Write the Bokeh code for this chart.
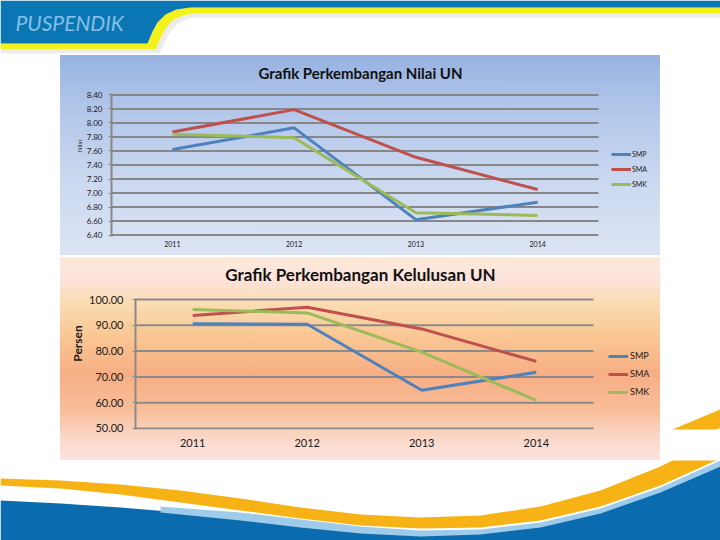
from bokeh.plotting import figure
from bokeh.models import Range1d, FixedTicker, NumeralTickFormatter, Legend, LegendItem, Label
from bokeh.layouts import column, row
from bokeh.embed import file_html
from bokeh.resources import INLINE
from bokeh.core.properties import value

# ---------------- data ----------------
years = [2011, 2012, 2013, 2014]
series_names = ["SMP", "SMA", "SMK"]

nilai_smp = [7.62, 7.93, 6.62, 6.87]
nilai_sma = [7.87, 8.19, 7.51, 7.05]
nilai_smk = [7.84, 7.79, 6.72, 6.68]
nilai_ticks = [6.40, 6.60, 6.80, 7.00, 7.20, 7.40, 7.60, 7.80, 8.00, 8.20, 8.40]

lulus_smp = [90.6, 90.4, 64.8, 71.8]
lulus_sma = [93.8, 97.0, 88.6, 76.0]
lulus_smk = [96.1, 94.8, 79.6, 60.9]
lulus_ticks = [50, 60, 70, 80, 90, 100]

title_nilai = "Grafik Perkembangan Nilai UN"
title_lulus = "Grafik Perkembangan Kelulusan UN"
ylabel_nilai = "Nilai"
ylabel_lulus = "Persen"
brand = "PUSPENDIK"

colors = ["#4F81BD", "#C0504D", "#9BBB59"]
FONT = "Lato"
X_LO, X_HI = 2010.5, 2014.5   # category band edges of the plot area


def chart(title, series, ticks, y_lo, y_hi, y_axis_top, x_end, ylabel, width, height,
          borders, tick_fs, ylabel_fs, ylabel_bold, title_fs, title_xy,
          x_fs, leg_fs, leg_pad, leg_gh, leg_sp, leg_xy, leg_standoff, gradient,
          tick_standoff, x_standoff, grid_color):
    bl, bb = borders
    p = figure(width=width, height=height,
               x_range=Range1d(X_LO, x_end), y_range=Range1d(y_lo, y_hi),
               output_backend="svg", toolbar_location=None,
               min_border_left=bl, min_border_right=0,
               min_border_top=0, min_border_bottom=bb,
               background_fill_color=None, border_fill_color=None,
               outline_line_color=None,
               styles={"background": gradient})
    p.title.visible = False
    p.grid.visible = False
    # horizontal gridlines limited to the plot area
    p.segment(x0=[X_LO] * len(ticks), x1=[X_HI] * len(ticks), y0=ticks, y1=ticks,
              line_color=grid_color, line_width=2)

    ya = p.yaxis[0]
    ya.bounds = (y_lo, y_axis_top)
    ya.ticker = FixedTicker(ticks=ticks)
    ya.formatter = NumeralTickFormatter(format="0.00")
    ya.axis_line_color = grid_color
    ya.axis_line_width = 2
    ya.major_tick_line_color = grid_color
    ya.major_tick_out = 3
    ya.major_tick_in = 0
    ya.minor_tick_line_color = None
    ya.major_label_text_font = FONT
    ya.major_label_text_font_size = f"{tick_fs}px"
    ya.major_label_text_color = "#1a1a1a"
    ya.major_label_standoff = tick_standoff
    ya.axis_label = ylabel
    ya.axis_label_text_font = FONT
    ya.axis_label_text_font_size = f"{ylabel_fs}px"
    ya.axis_label_text_font_style = "bold" if ylabel_bold else "normal"
    ya.axis_label_text_color = "#1a1a1a"
    ya.axis_label_standoff = 1

    xa = p.xaxis[0]
    xa.ticker = FixedTicker(ticks=years)
    xa.axis_line_color = None
    xa.major_tick_line_color = None
    xa.minor_tick_line_color = None
    xa.major_label_text_font = FONT
    xa.major_label_text_font_size = f"{x_fs}px"
    xa.major_label_text_color = "#1a1a1a"
    xa.major_label_standoff = x_standoff

    items = []
    for name, vals, c in zip(series_names, series, colors):
        r = p.line(years, vals, line_color=c, line_width=3)
        items.append(LegendItem(label=name, renderers=[r]))
    leg = Legend(items=items, location=leg_xy, margin=0, padding=leg_pad,
                 glyph_width=20, glyph_height=leg_gh, label_height=leg_gh,
                 spacing=leg_sp, label_standoff=leg_standoff,
                 label_text_font=FONT, label_text_font_size=f"{leg_fs}px",
                 label_text_color="#1a1a1a",
                 border_line_color=None, background_fill_alpha=0)
    p.add_layout(leg, "center")

    tx, ty = title_xy
    p.add_layout(Label(x=tx, y=ty, text=title, text_align="center",
                       text_baseline="middle", text_font=FONT,
                       text_font_size=f"{title_fs}px", text_font_style="bold",
                       text_color="#111111"))
    return p


grad_top = ("linear-gradient(to bottom, #97B2E1 0%, #B4C8EA 30%, "
            "#CCD9F0 65%, #DCE4F3 100%)")
grad_bot = ("linear-gradient(to bottom, #FCE9D6 0%, #FDE4DF 10%, "
            "#FBDDB5 22%, #F9C894 38%, #F7AE84 58%, #F8BD98 75%, "
            "#FAD6C4 88%, #FCE4E0 100%)")

p1 = chart(title_nilai, [nilai_smp, nilai_sma, nilai_smk], nilai_ticks,
           6.38, 8.962, 8.42, 2015.009, ylabel_nilai, 600, 200, (51, 19),
           8, 6, False, 15, (2012.545, 8.719), 7,
           7, 14, 8, 7, (500, 48), 1, grad_top, 6, -2, "#878787")

p2 = chart(title_lulus, [lulus_smp, lulus_sma, lulus_smk], lulus_ticks,
           49.6, 116.29, 100.4, 2015.085, ylabel_lulus, 600, 203, (75, 31),
           11, 12, True, 17, (2012.465, 109.7), 11,
           9, 15, 10, 7, (473, 32), 2, grad_bot, 9, 3, "#8A8A8A")

# ---------------- slide decoration ----------------
hdr_blue_x = [0, 720, 720, 190, 176, 165, 157, 152, 147, 0]
hdr_blue_y = [0, 0, 7, 7, 9, 14, 22, 31, 43, 43]
hdr_yel_x = [720, 720, 194, 182, 172, 165, 160, 155, 0, 0, 147, 152, 157, 165, 176, 190]
hdr_yel_y = [7, 13, 13, 15, 20, 28, 38, 49, 49, 43, 43, 31, 22, 14, 9, 7]
hdr_sh_x = [720, 720, 196, 185, 176, 169, 164, 159, 0, 0, 155, 160, 165, 172, 182, 194]
hdr_sh_y = [13, 17, 17, 19, 24, 32, 42, 53, 53, 49, 49, 38, 28, 20, 15, 13]

ft_org_x = [0, 60, 120, 180, 240, 300, 360, 420, 480, 540, 600, 660, 720,
            720, 660, 600, 540, 480, 420, 360, 300, 240, 180, 120, 60, 0]
ft_org_y = [478, 480, 484, 490, 498, 507, 514, 517, 515, 506, 490, 466, 436,
            458, 485, 506, 520, 527, 528, 525, 518, 510, 502, 494, 488, 485]
ft_lb_x = [160, 240, 300, 360, 420, 480, 540, 600, 660, 720, 720, 660, 600, 540, 480, 420, 360, 300, 240, 160]
ft_lb_y = [506, 512, 519, 526, 530, 529, 522, 508, 487, 460, 466, 492, 513, 527, 534, 536, 533, 527, 520, 512]
ft_blue_x = [0, 60, 120, 180, 240, 300, 360, 420, 480, 540, 600, 660, 720, 720, 0]
ft_blue_y = [500, 503, 507, 512, 518, 524, 530, 533, 532, 525, 511, 490, 463, 540, 540]


def deco(x0, x1, y0, y1, with_brand=False):
    f = figure(width=x1 - x0, height=y1 - y0,
               x_range=Range1d(x0, x1), y_range=Range1d(y1, y0),
               x_axis_location=None, y_axis_location=None,
               output_backend="svg", toolbar_location=None, min_border=0,
               outline_line_color=None, background_fill_color="white",
               border_fill_color="white")
    f.grid.visible = False
    f.patch(hdr_sh_x, hdr_sh_y, fill_color="#C8C8C8", fill_alpha=0.35, line_color=None)
    f.patch(hdr_yel_x, hdr_yel_y, fill_color="#F4F21C", line_color=None)
    f.patch(hdr_blue_x, hdr_blue_y, fill_color="#0A77B4", line_color=None)
    if with_brand:
        f.text(x=[15], y=[22], text=[brand], text_font=value(FONT),
               text_font_size="21px", text_font_style="italic",
               text_color="#86BFE6", text_baseline="middle", text_align="left")
    f.patch(ft_blue_x, ft_blue_y, fill_color="#0B6BAF", line_color=None)
    f.patch(ft_lb_x, ft_lb_y, fill_color="#9FCBEA", line_color=None)
    f.patch(ft_org_x, ft_org_y, fill_color="#F7B216", line_color=None)
    return f


layout = column(
    deco(0, 720, 0, 55, with_brand=True),
    row(deco(0, 60, 55, 255), p1, deco(660, 720, 55, 255)),
    deco(0, 720, 255, 257),
    row(deco(0, 60, 257, 460), p2, deco(660, 720, 257, 460)),
    deco(0, 720, 460, 540),
)

open("out.html", "w").write(file_html(layout, INLINE))
